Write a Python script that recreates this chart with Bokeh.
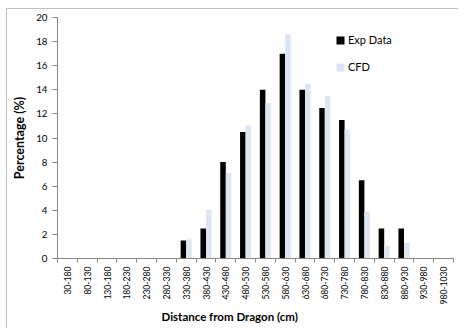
from bokeh.plotting import figure
from bokeh.models import (ColumnDataSource, FixedTicker, Range1d, Legend, LegendItem, Title)
from bokeh.transform import dodge
from bokeh.embed import file_html
from bokeh.resources import INLINE
import math

# Distance bins and percentages
categories = ["30-180", "80-130", "130-180", "180-230", "230-280", "280-330",
              "330-380", "380-430", "430-480", "480-530", "530-580", "580-630",
              "630-680", "680-730", "730-780", "780-830", "830-880", "880-930",
              "930-980", "980-1030"]
exp_data = [0, 0, 0, 0, 0, 0, 1.5, 2.5, 8, 10.5, 14, 17, 14, 12.5, 11.5, 6.5,
            2.5, 2.5, 0, 0]
cfd_data = [0, 0, 0, 0, 0, 0, 1.6, 4.05, 7.1, 11.05, 12.9, 18.6, 14.5, 13.5,
            10.7, 3.9, 1.05, 1.3, 0, 0]
y_ticks = [0, 2, 4, 6, 8, 10, 12, 14, 16, 18, 20]

FONT = "Lato"
TEXT = "#000000"
centers = [i + 0.5 for i in range(len(categories))]
src = ColumnDataSource(dict(x=centers, exp=exp_data, cfd=cfd_data))

p = figure(width=452, height=320, output_backend="svg", toolbar_location=None,
           x_range=Range1d(0, len(categories)), y_range=Range1d(0, 20),
           min_border_left=50, min_border_right=6, min_border_top=8,
           min_border_bottom=71)
p.styles = {"margin-left": "6px", "margin-top": "8px",
            "border-left": "1px solid #c0c0c0", "border-top": "1px solid #c0c0c0"}
p.outline_line_color = None
p.xgrid.visible = False
p.ygrid.visible = False

bw = 0.28
r_exp = p.vbar(x=dodge("x", -bw / 2), top="exp", width=bw, source=src,
               fill_color="black", line_color=None)
r_cfd = p.vbar(x=dodge("x", bw / 2), top="cfd", width=bw, source=src,
               fill_color="#dce6f2", line_color=None)

# x axis: labels at bin centres, tick marks at bin boundaries
xa = p.xaxis[0]
xa.ticker = FixedTicker(ticks=centers, minor_ticks=list(range(len(categories) + 1)))
xa.major_label_overrides = {c: lab for c, lab in zip(centers, categories)}
xa.major_label_orientation = math.pi / 2
xa.major_tick_out = 0
xa.major_tick_in = 0
xa.minor_tick_out = 4
xa.minor_tick_in = 0
xa.minor_tick_line_color = "#868686"
xa.axis_line_color = "#868686"
xa.major_label_text_font = FONT
xa.major_label_text_font_size = "8.6px"
xa.major_label_text_color = TEXT
xa.major_label_standoff = 4

# x-axis title, left-aligned with an offset so it sits under the chart centre
x_title = Title(text="Distance from Dragon (cm)", align="left", offset=104,
                text_font=FONT, text_font_style="bold", text_font_size="11.5px",
                text_color=TEXT, standoff=0)
p.add_layout(x_title, "below")

ya = p.yaxis[0]
ya.ticker = FixedTicker(ticks=y_ticks)
ya.minor_tick_line_color = None
ya.major_tick_out = 5
ya.major_tick_in = 0
ya.major_tick_line_color = "#868686"
ya.axis_line_color = "#868686"
ya.major_label_text_font = FONT
ya.major_label_text_font_size = "9.8px"
ya.major_label_text_color = TEXT
ya.major_label_standoff = 5
ya.axis_label = "Percentage (%)"
ya.axis_label_text_font = FONT
ya.axis_label_text_font_style = "bold"
ya.axis_label_text_font_size = "12.5px"
ya.axis_label_text_color = TEXT
ya.axis_label_standoff = 6

legend = Legend(items=[LegendItem(label="Exp Data", renderers=[r_exp]),
                       LegendItem(label="CFD", renderers=[r_cfd])],
                location=(278, 185), orientation="vertical")
legend.border_line_color = None
legend.background_fill_alpha = 0
legend.glyph_width = 10
legend.glyph_height = 10
legend.label_text_font = FONT
legend.label_text_font_size = "11px"
legend.label_text_color = TEXT
legend.label_standoff = 3
legend.spacing = 14
legend.padding = 0
legend.margin = 0
p.add_layout(legend, "center")

open("out.html", "w").write(file_html(p, INLINE))
